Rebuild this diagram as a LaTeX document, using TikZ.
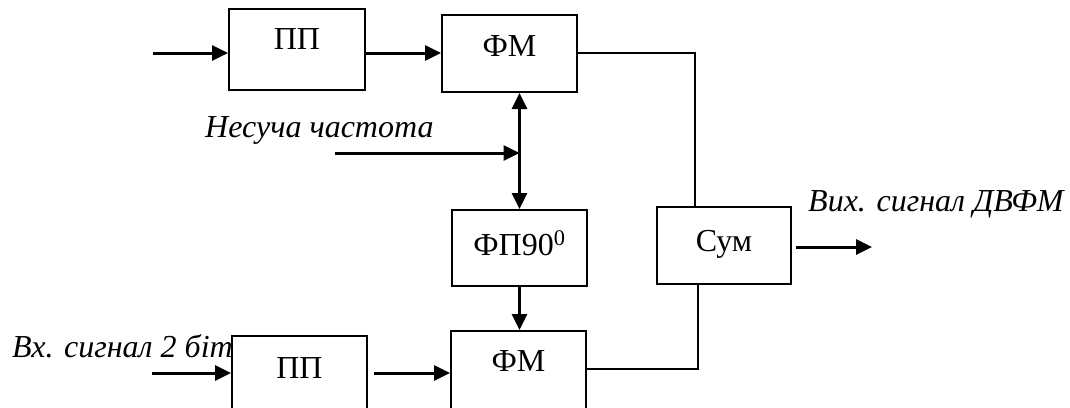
\documentclass[tikz,border=0pt]{standalone}
\usepackage{fontspec}
\setmainfont{Liberation Serif}
\usetikzlibrary{arrows.meta,calc}
\newcommand\tbase[2]{\raisebox{#1}[0pt][0pt]{#2}}
\begin{document}
\begin{tikzpicture}[x=1pt,y=-1pt,
  box/.style={draw,line width=2pt,inner sep=0pt,minimum width=135pt,minimum height=80pt,font=\fontsize{32}{38}\selectfont},
  lbl/.style={font=\fontsize{32}{38}\selectfont\itshape,inner sep=0pt,anchor=base west},
  arr/.style={line width=3pt,-{Triangle[length=16pt,width=15pt]}},
  darr/.style={line width=3pt,{Triangle[length=16pt,width=15pt]}-{Triangle[length=16pt,width=15pt]}},
  wire/.style={line width=2pt}]
\path[use as bounding box] (0,0) rectangle (1070,407);
\clip (0,0) rectangle (1070,407);
% boxes
\node[box,minimum width=136pt,minimum height=81pt] (pp1) at (297,49.5) {\tbase{0pt}{ПП}};
\node[box,minimum height=77pt] (fm1) at (509.5,53.5) {\tbase{-3pt}{ФМ}};
\node[box,minimum height=76pt] (fp) at (519.5,248) {\tbase{-7pt}{ФП90\textsuperscript{0}}};
\node[box,minimum width=134pt,minimum height=77pt] (sum) at (724,245.5) {\tbase{-6pt}{Сум}};
\node[box] (pp2) at (299.5,376) {\tbase{-2pt}{ПП}};
\node[box] (fm2) at (518.5,371) {\tbase{0pt}{ФМ}};
% labels
\node[lbl] (carrier) at (205,137) {Несуча частота};
\node[lbl] (inlbl) at (12,357) {Вх. сигнал 2 біт};
\node[lbl] (outlbl) at (808,211) {Вих. сигнал ДВФМ};
% connectors
\coordinate (in1) at (153,53);
\draw[arr] (in1) -- (in1 -| pp1.west);
\draw[arr] (pp1.east |- in1) -- (fm1.west |- in1);
\coordinate (j1) at (695,53);
\draw[wire] (fm1.east |- j1) -- (j1) -- (j1 |- sum.north);
\coordinate (cf) at (335,153);
\draw[arr] (cf) -- (cf -| fp.north);
\draw[darr] (fp.north |- fm1.south) -- (fp.north);
\draw[arr] (fp.south) -- (fp.south |- fm2.north);
\coordinate (in2) at (152,373);
\draw[arr] (in2) -- (in2 -| pp2.west);
\draw[arr] ($(pp2.east |- in2)+(6,0)$) -- (fm2.west |- in2);
\coordinate (j2) at (698,369);
\draw[wire] (fm2.east |- j2) -- (j2) -- (j2 |- sum.south);
\coordinate (out) at (872,247);
\draw[arr] ($(sum.east |- out)+(4,0)$) -- (out);
\end{tikzpicture}
\end{document}
